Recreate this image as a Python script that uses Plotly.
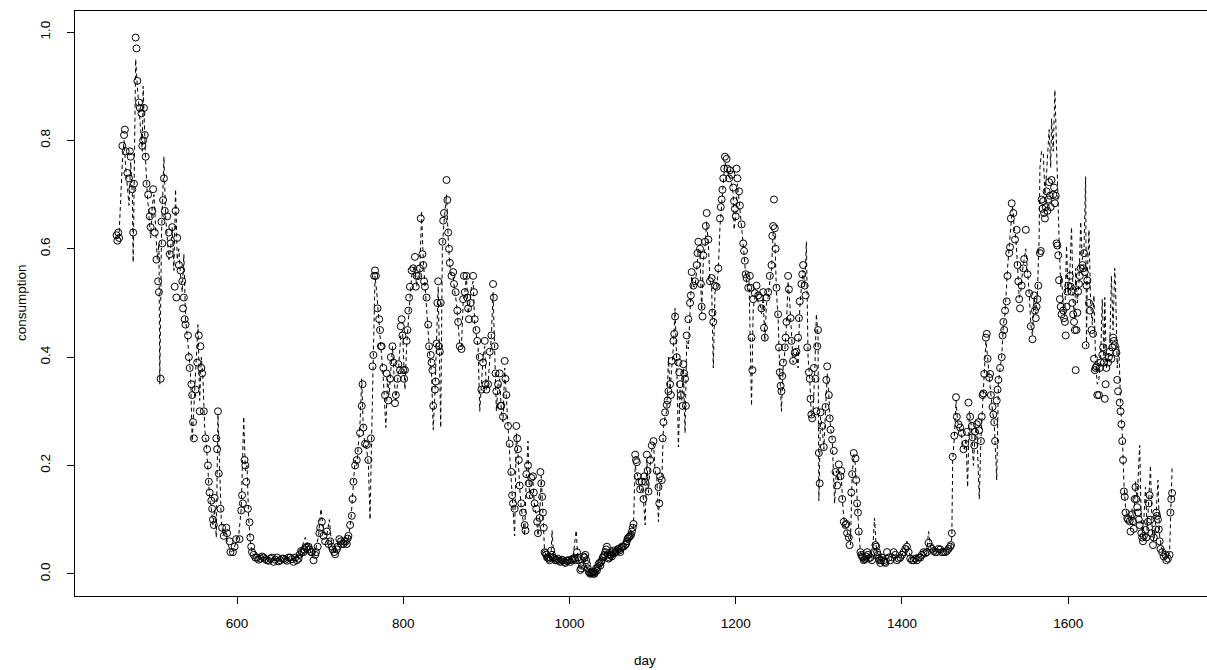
import plotly.graph_objects as go

# ---------------- observed consumption (circles) ----------------
obs_day_1 = [455,456,457,458,462,464,465,466,468,470,
             471,472,474,475,476,478,479,480,482,483,
             485,486,487,488,489,490,491,493,495,496,
             498,499,501,503,505,506,508,509,510,511,
             512,513,516,518,519,520,522,525,526,527,
             528,530,532,534,535,536,537,538,541,542,
             543,545,546,547,548,550,552,554,555,556,
             557,558,560,562,564,565,566,567,569,570,
             571,572,573,575,576,577,578,580,582,584,
             587,588,591,592,595,597,599,603,605,606,
             607,609,610,611,613,615,616,617,618]
obs_val_1 = [0.625,0.615,0.63,0.62,0.79,0.81,0.82,0.78,0.74,0.73,
             0.78,0.77,0.71,0.63,0.72,0.99,0.97,0.91,0.87,0.86,
             0.85,0.79,0.80,0.86,0.81,0.77,0.72,0.70,0.66,0.64,
             0.67,0.71,0.63,0.58,0.54,0.52,0.36,0.65,0.61,0.69,
             0.73,0.67,0.66,0.63,0.59,0.61,0.64,0.53,0.67,0.51,
             0.62,0.57,0.56,0.54,0.49,0.51,0.47,0.46,0.44,0.40,
             0.38,0.35,0.33,0.28,0.25,0.34,0.39,0.44,0.30,0.42,
             0.38,0.37,0.30,0.25,0.23,0.20,0.17,0.15,0.135,0.12,
             0.10,0.09,0.14,0.25,0.23,0.30,0.185,0.12,0.085,0.07,
             0.085,0.075,0.06,0.04,0.04,0.05,0.064,0.064,0.117,0.145,
             0.13,0.21,0.20,0.17,0.12,0.095,0.067,0.05,0.04]

obs_day_2 = [620,624,628,632,636,640,644,648,652,656,
             660,664,668,672,675,678,681,684,687,690,
             692,695,699,700,702,706,708,712,715,718,
             721,723,726,729,732,734,736,738,739,740,
             742,744,746,748,750,751,752,754,756,758,
             761,763,764,765,766,767,769,771,772,773,
             774,776,778,780,782,784,785,787,788,790,
             791,793,794,796,797,798,799,800,801,802,
             804,805,806,807,808,810,812,814,815,816,
             818,820,821,823,824,825,826,828,830,831,
             833,834,835,836,838,839,840,841,842,843,
             844,845,847,848,849,852,853,854,855,856,
             858,860,861,863,865,866,868,870,872,873]
obs_val_2 = [0.035,0.03,0.028,0.03,0.025,0.028,0.022,0.03,0.025,0.028,
             0.024,0.03,0.022,0.025,0.035,0.04,0.045,0.05,0.045,0.04,
             0.025,0.04,0.075,0.085,0.096,0.06,0.078,0.06,0.045,0.036,
             0.05,0.064,0.055,0.06,0.055,0.07,0.09,0.107,0.138,0.17,
             0.20,0.21,0.227,0.26,0.31,0.35,0.27,0.24,0.238,0.21,
             0.25,0.383,0.404,0.55,0.56,0.55,0.49,0.47,0.45,0.42,
             0.42,0.38,0.33,0.37,0.32,0.36,0.40,0.42,0.39,0.315,
             0.33,0.36,0.387,0.376,0.457,0.47,0.44,0.376,0.36,0.376,
             0.43,0.45,0.486,0.51,0.53,0.56,0.564,0.585,0.53,0.55,
             0.55,0.564,0.656,0.59,0.57,0.54,0.53,0.51,0.46,0.42,
             0.404,0.39,0.376,0.31,0.34,0.355,0.425,0.50,0.54,0.42,
             0.41,0.50,0.613,0.652,0.666,0.727,0.69,0.63,0.60,0.574,
             0.55,0.557,0.535,0.52,0.486,0.465,0.42,0.415,0.507,0.55]

obs_day_3 = [874,876,877,878,879,881,884,885,886,888,
             889,892,894,896,898,899,900,902,904,906,
             908,909,910,911,912,914,916,917,918,920,
             922,923,924,926,928,930,931,932,934,936,
             937,938,939,940,942,944,946,947,948,950,
             951,952,954,956,957,958,960,961,962,964,
             965,966,967,968,969,970,972,974,976,978,
             980,983,986,989,992,995,998,1001,1004,1007,
             1009,1011,1013,1015,1017,1019,1021,1023,1025,1027,
             1030,1033,1035,1037,1039,1041,1043,1045,1047,1049,
             1051,1053,1055,1059,1061,1063,1067,1069,1071,1073,
             1075,1077,1079,1080,1081,1082,1084,1085,1087,1089,
             1090,1091,1093,1094,1095,1097,1099,1101]
obs_val_3 = [0.52,0.55,0.51,0.49,0.47,0.50,0.55,0.52,0.47,0.45,
             0.43,0.40,0.34,0.39,0.43,0.35,0.34,0.35,0.41,0.44,
             0.535,0.51,0.42,0.37,0.337,0.35,0.37,0.31,0.31,0.29,
             0.393,0.36,0.33,0.273,0.24,0.188,0.145,0.13,0.12,0.273,
             0.25,0.23,0.21,0.163,0.13,0.113,0.09,0.08,0.184,0.20,
             0.167,0.145,0.177,0.18,0.15,0.13,0.12,0.096,0.075,0.103,
             0.188,0.167,0.142,0.113,0.085,0.04,0.035,0.03,0.025,0.043,
             0.03,0.025,0.028,0.022,0.025,0.02,0.025,0.022,0.028,0.025,
             0.04,0.025,0.007,0.015,0.032,0.035,0.018,0.004,0.0,0.003,
             0.0,0.006,0.018,0.015,0.025,0.032,0.04,0.05,0.028,0.035,
             0.032,0.043,0.04,0.046,0.04,0.05,0.053,0.06,0.067,0.07,
             0.078,0.092,0.22,0.21,0.206,0.18,0.17,0.156,0.17,0.138,
             0.18,0.17,0.22,0.19,0.152,0.21,0.237,0.245]

obs_day_4 = [1105,1107,1108,1109,1111,1112,1113,1115,1117,1118,
             1119,1121,1122,1123,1125,1126,1127,1129,1131,1132,
             1133,1134,1136,1137,1138,1139,1140,1141,1143,1145,
             1146,1147,1149,1151,1153,1154,1155,1157,1158,1159,
             1160,1161,1163,1164,1165,1167,1169,1171,1172,1173,
             1175,1177,1179,1181,1182,1183,1184,1185,1186,1187,
             1189,1190,1192,1193,1195,1197,1198,1199,1200,1201,
             1202,1204,1205,1207,1209,1210,1211,1212,1213,1215,
             1217,1218,1219,1220,1221,1223,1225,1227,1229,1231,
             1233,1234,1235,1237,1239,1241,1243,1244,1245,1246,
             1247,1248,1249,1251,1252,1253,1254,1255,1256,1257,
             1259,1260,1261,1263,1264,1266,1267,1269,1271,1273,
             1275,1276,1277,1279,1280,1281,1283,1284,1286,1288,
             1289,1290,1291,1292,1294,1296,1297,1298,1299,1300,
             1301,1302,1304,1306,1308,1309,1310,1312,1313,1314,
             1316,1318,1320,1322,1324,1326,1327,1328,1330,1332]
obs_val_4 = [0.19,0.16,0.13,0.18,0.173,0.25,0.28,0.298,0.312,0.32,
             0.337,0.35,0.33,0.393,0.43,0.443,0.475,0.40,0.39,0.372,
             0.35,0.33,0.31,0.387,0.37,0.36,0.31,0.44,0.47,0.50,
             0.514,0.557,0.532,0.54,0.57,0.592,0.613,0.60,0.535,0.493,
             0.475,0.588,0.613,0.642,0.666,0.617,0.54,0.546,0.482,0.465,
             0.532,0.53,0.564,0.656,0.677,0.691,0.709,0.73,0.748,0.77,
             0.766,0.748,0.73,0.745,0.737,0.713,0.688,0.674,0.66,0.748,
             0.73,0.706,0.68,0.645,0.61,0.596,0.578,0.553,0.546,0.528,
             0.55,0.528,0.436,0.376,0.507,0.518,0.532,0.514,0.51,0.49,
             0.52,0.454,0.436,0.51,0.52,0.55,0.57,0.624,0.642,0.691,
             0.638,0.60,0.528,0.479,0.418,0.372,0.347,0.337,0.365,0.39,
             0.418,0.436,0.465,0.55,0.525,0.472,0.43,0.393,0.408,0.41,
             0.436,0.472,0.503,0.535,0.553,0.57,0.532,0.514,0.418,0.372,
             0.36,0.323,0.294,0.287,0.38,0.36,0.30,0.42,0.45,0.223,
             0.167,0.298,0.273,0.234,0.308,0.358,0.383,0.33,0.287,0.266,
             0.248,0.227,0.188,0.163,0.202,0.18,0.19,0.138,0.096,0.09]

obs_day_5 = [1333,1334,1336,1337,1339,1340,1342,1344,1345,1346,
             1347,1348,1350,1352,1354,1356,1358,1360,1364,1368,
             1370,1372,1374,1376,1380,1382,1386,1390,1394,1398,
             1404,1406,1410,1414,1418,1422,1426,1430,1432,1436,
             1440,1444,1448,1452,1456,1459,1460,1461,1463,1465,
             1466,1468,1470,1472,1474,1476,1478,1480,1482,1484,
             1485,1487,1488,1490,1492,1493,1495,1496,1497,1498,
             1499,1501,1502,1503,1505,1506,1507,1509,1510,1511,
             1512,1514,1515,1516,1518,1520,1521,1522,1523,1524,
             1526,1527,1529,1530,1531,1532,1534,1536,1538,1539,
             1540,1541,1542,1544,1546,1547,1549,1551,1553,1555,
             1557,1559]
obs_val_5 = [0.092,0.075,0.067,0.053,0.15,0.184,0.223,0.213,0.173,0.13,
             0.113,0.078,0.04,0.032,0.025,0.028,0.04,0.028,0.025,0.053,
             0.04,0.028,0.02,0.03,0.02,0.04,0.025,0.04,0.025,0.03,
             0.046,0.05,0.028,0.025,0.025,0.03,0.04,0.04,0.057,0.046,
             0.04,0.046,0.04,0.04,0.046,0.053,0.075,0.216,0.255,0.326,
             0.29,0.276,0.27,0.26,0.23,0.24,0.262,0.316,0.29,0.273,
             0.252,0.237,0.262,0.276,0.28,0.265,0.245,0.29,0.33,0.333,
             0.369,0.436,0.443,0.397,0.362,0.369,0.33,0.308,0.294,0.28,
             0.245,0.32,0.34,0.358,0.38,0.40,0.44,0.465,0.45,0.486,
             0.503,0.55,0.592,0.603,0.656,0.684,0.666,0.617,0.635,0.57,
             0.54,0.507,0.49,0.532,0.564,0.581,0.635,0.553,0.518,0.457,
             0.433,0.514]

obs_day_6 = [1560,1561,1562,1563,1564,1566,1567,1568,1569,1570,
             1571,1572,1573,1574,1575,1576,1577,1578,1579,1580,
             1582,1583,1584,1585,1586,1587,1588,1589,1590,1591,
             1592,1594,1595,1596,1597,1598,1599,1600,1602,1603,
             1604,1605,1606,1607,1608,1609,1610,1611,1612,1613,
             1614,1615,1617,1618,1619,1620,1621,1622,1623,1625,
             1626,1628,1630,1631,1632,1633,1634,1635,1637,1638,
             1639,1641,1642,1643,1644,1645,1646,1648,1649,1650,
             1652,1653,1654,1655,1656,1658,1659,1660,1662,1663,
             1664,1665,1666,1667,1668,1669,1671,1672,1674,1675,
             1677,1678,1679,1680,1681,1682,1683,1684,1685,1686,
             1688,1689,1690,1691,1693,1694,1696,1697,1698,1699,
             1700,1702,1703,1705,1706,1707,1708,1709,1710,1711,
             1713,1715,1717,1718,1720,1722,1723,1724,1725]
obs_val_6 = [0.486,0.472,0.493,0.507,0.532,0.592,0.596,0.691,0.674,0.688,
             0.666,0.656,0.677,0.706,0.67,0.691,0.723,0.698,0.677,0.727,
             0.70,0.713,0.684,0.698,0.61,0.606,0.588,0.542,0.507,0.493,
             0.479,0.486,0.472,0.465,0.44,0.493,0.521,0.532,0.55,0.53,
             0.521,0.50,0.479,0.465,0.45,0.376,0.45,0.482,0.521,0.535,
             0.55,0.564,0.57,0.564,0.592,0.557,0.422,0.532,0.542,0.50,
             0.486,0.45,0.443,0.397,0.376,0.38,0.383,0.33,0.33,0.38,
             0.39,0.404,0.418,0.39,0.323,0.35,0.38,0.39,0.40,0.41,
             0.397,0.418,0.436,0.43,0.422,0.408,0.358,0.337,0.316,0.30,
             0.276,0.245,0.21,0.152,0.142,0.113,0.103,0.10,0.097,0.078,
             0.11,0.097,0.083,0.138,0.16,0.138,0.123,0.113,0.10,0.09,
             0.075,0.067,0.06,0.07,0.081,0.067,0.096,0.13,0.145,0.10,
             0.075,0.053,0.067,0.082,0.113,0.107,0.10,0.082,0.06,0.046,
             0.04,0.032,0.035,0.025,0.028,0.035,0.113,0.138,0.149]

# extra readings in the dense low (summer) bands
obs_day_low = [622,626,630,634,638,642,646,650,654,658,
               662,666,670,674,677,680,683,686,689,694,
               697,704,710,714,717,720,725,728,731,733,
               971,973,975,977,979,982,985,988,991,994,
               997,1000,1003,1006,1010,1014,1018,1020,1022,1024,
               1026,1028,1029,1031,1032,1034,1036,1038,1040,1042,
               1044,1046,1048,1050,1052,1054,1057,1058,1060,1062,
               1065,1068,1070,1072,1074,1076,
               1351,1353,1355,1357,1359,1362,1366,1369,1371,1373,
               1375,1378,1379,1384,1388,1392,1396,1400,1402,1408,
               1412,1416,1420,1424,1428,1434,1438,1442,1446,1450,
               1454,1458]
obs_val_low = [0.03,0.026,0.032,0.027,0.024,0.03,0.026,0.023,0.028,0.026,
               0.03,0.027,0.03,0.028,0.042,0.04,0.048,0.05,0.04,0.035,
               0.05,0.07,0.055,0.05,0.04,0.045,0.06,0.055,0.06,0.065,
               0.038,0.03,0.028,0.03,0.035,0.028,0.025,0.024,0.026,0.022,
               0.024,0.025,0.026,0.028,0.03,0.01,0.03,0.025,0.01,0.002,
               0.002,0.0,0.004,0.003,0.01,0.012,0.02,0.022,0.03,0.035,
               0.045,0.035,0.03,0.035,0.04,0.038,0.042,0.045,0.043,0.048,
               0.05,0.055,0.065,0.068,0.072,0.085,
               0.035,0.03,0.027,0.032,0.035,0.03,0.04,0.05,0.035,0.025,
               0.025,0.025,0.022,0.03,0.03,0.035,0.028,0.035,0.04,0.04,
               0.025,0.028,0.03,0.035,0.038,0.05,0.042,0.04,0.045,0.04,
               0.042,0.05]

# ---------------- model output (dashed line) ----------------
fit_day = [455,458,462,464,466,468,470,472,474,475,
           476,478,480,482,484,486,487,488,490,492,
           494,496,498,500,502,504,506,507,509,512,
           514,516,518,520,522,524,526,528,530,532,
           534,536,538,540,542,544,546,548,550,553,
           555,557,559,561,563,565,567,569,571,573,
           575,577,579,581,583,586,588,590,593,596,
           599,602,605,608,610,612,614,616,618,622,
           628,634,640,646,652,658,664,670,676,682,
           686,690,694,698,701,704,708,711,714,718,
           722,726,730,734,737,740,742,744,746,748,
           750,752,754,756,758,760,762,764,766,768,
           770,772,774,776,779,781,783,785,787,789,
           791,793,795,797,799,802,804,806,808,810,
           812,814,816,818,820,822,824,826,828,830,
           832,834,836,838,840,842,845,847,849,852,
           854,856,858,860,862,864,866,868,870,872,
           874,876,878,880,882,884,886,888,890,892,
           894,896,898,900,902,904,906,908,910,912,
           914,916,918,920,922,924,926,928,930,932,
           934,936,938,940,942,944,946,948,950,952,
           954,956,958,960,962,964,966,968,970,974,
           978,979,981,986,992,998,1004,1008,1010,1014,
           1018,1022,1026,1030,1034,1038,1042,1046,1050,1054,
           1058,1062,1066,1070,1074,1077,1079,1082,1085,1088,
           1091,1093,1095,1097,1099,1101,1103,1105,1107,1109,
           1111,1113,1115,1117,1119,1121,1123,1125,1127,1129,
           1131,1133,1135,1137,1139,1141,1143,1145,1147,1149,
           1151,1153,1155,1157,1159,1161,1163,1165,1167,1169,
           1171,1173,1175,1177,1179,1181,1183,1185,1187,1189,
           1191,1193,1195,1197,1198,1200,1202,1204,1206,1208,
           1210,1212,1214,1216,1219,1221,1223,1225,1227,1229,
           1231,1233,1235,1237,1239,1241,1243,1245,1247,1249,
           1251,1253,1255,1257,1259,1261,1263,1265,1267,1269,
           1271,1273,1275,1277,1279,1281,1283,1285,1287,1289,
           1291,1293,1295,1297,1299,1300,1302,1304,1306,1308,
           1310,1312,1314,1316,1319,1321,1323,1325,1327,1329,
           1331,1333,1335,1338,1340,1342,1344,1346,1348,1350,
           1354,1358,1362,1365,1367,1369,1373,1378,1383,1388,
           1393,1398,1403,1406,1410,1415,1420,1425,1430,1432,
           1435,1440,1445,1450,1455,1459,1460,1461,1463,1465,
           1467,1469,1471,1473,1475,1477,1479,1481,1483,1486,
           1488,1490,1493,1495,1497,1499,1501,1503,1505,1507,
           1509,1511,1514,1516,1518,1520,1522,1524,1527,1529,
           1531,1533,1535,1537,1539,1541,1543,1545,1547,1549,
           1551,1553,1555,1557,1559,1561,1563,1565,1566,1568,
           1570,1572,1574,1577,1579,1580,1582,1584,1585,1587,
           1589,1591,1592,1594,1596,1598,1600,1602,1604,1606,
           1608,1609,1611,1613,1615,1617,1619,1621,1622,1623,
           1625,1627,1629,1631,1633,1635,1637,1639,1641,1643,
           1644,1646,1648,1650,1652,1654,1656,1657,1659,1661,
           1663,1665,1667,1669,1671,1673,1675,1677,1679,1681,
           1683,1686,1688,1690,1693,1695,1697,1699,1701,1703,
           1705,1708,1710,1712,1714,1717,1720,1722,1725]
fit_val = [0.62,0.625,0.76,0.80,0.75,0.72,0.68,0.76,0.70,0.575,
           0.72,0.95,0.90,0.86,0.82,0.78,0.90,0.84,0.76,0.70,
           0.66,0.62,0.68,0.70,0.64,0.58,0.61,0.35,0.62,0.77,
           0.66,0.62,0.58,0.60,0.64,0.56,0.71,0.58,0.60,0.55,
           0.52,0.59,0.47,0.44,0.40,0.37,0.245,0.30,0.36,0.46,
           0.32,0.40,0.36,0.27,0.24,0.19,0.14,0.12,0.09,0.12,
           0.067,0.295,0.17,0.10,0.07,0.08,0.06,0.05,0.04,0.045,
           0.06,0.07,0.12,0.29,0.19,0.20,0.10,0.06,0.04,0.032,
           0.028,0.03,0.025,0.03,0.025,0.028,0.03,0.025,0.04,0.067,
           0.05,0.035,0.04,0.07,0.12,0.08,0.07,0.10,0.05,0.04,
           0.06,0.05,0.06,0.065,0.10,0.16,0.21,0.20,0.24,0.28,
           0.36,0.26,0.24,0.23,0.20,0.10,0.26,0.40,0.55,0.52,
           0.47,0.44,0.40,0.36,0.27,0.36,0.33,0.38,0.42,0.36,
           0.32,0.35,0.39,0.44,0.45,0.34,0.42,0.47,0.52,0.55,
           0.56,0.57,0.53,0.55,0.56,0.67,0.58,0.53,0.50,0.44,
           0.40,0.37,0.266,0.33,0.42,0.53,0.27,0.60,0.65,0.70,
           0.62,0.57,0.55,0.55,0.52,0.50,0.46,0.42,0.42,0.50,
           0.52,0.55,0.48,0.50,0.53,0.54,0.46,0.44,0.42,0.30,
           0.36,0.40,0.42,0.34,0.35,0.40,0.44,0.52,0.40,0.30,
           0.35,0.36,0.30,0.28,0.38,0.32,0.27,0.22,0.17,0.12,
           0.07,0.26,0.22,0.16,0.12,0.10,0.07,0.18,0.245,0.14,
           0.17,0.17,0.12,0.11,0.07,0.10,0.18,0.11,0.04,0.03,
           0.043,0.08,0.03,0.028,0.025,0.025,0.028,0.08,0.03,0.01,
           0.03,0.005,0.0,0.002,0.01,0.02,0.035,0.04,0.03,0.04,
           0.045,0.045,0.05,0.06,0.07,0.09,0.20,0.18,0.15,0.16,
           0.09,0.21,0.15,0.20,0.23,0.24,0.19,0.18,0.096,0.17,
           0.17,0.27,0.29,0.30,0.40,0.34,0.38,0.42,0.49,0.39,
           0.234,0.34,0.32,0.38,0.26,0.43,0.415,0.49,0.55,0.53,
           0.53,0.56,0.60,0.59,0.48,0.58,0.60,0.65,0.61,0.54,
           0.53,0.38,0.52,0.53,0.56,0.64,0.68,0.72,0.76,0.75,
           0.74,0.73,0.72,0.70,0.635,0.66,0.72,0.69,0.66,0.62,
           0.59,0.55,0.53,0.54,0.31,0.49,0.51,0.52,0.50,0.50,
           0.48,0.51,0.43,0.50,0.51,0.54,0.56,0.63,0.62,0.52,
           0.47,0.37,0.30,0.38,0.41,0.46,0.54,0.50,0.43,0.39,
           0.40,0.41,0.38,0.49,0.53,0.56,0.53,0.613,0.40,0.36,
           0.29,0.30,0.37,0.48,0.44,0.135,0.29,0.27,0.23,0.30,
           0.37,0.33,0.27,0.25,0.13,0.19,0.17,0.19,0.18,0.12,
           0.09,0.085,0.07,0.053,0.18,0.22,0.20,0.13,0.08,0.04,
           0.028,0.035,0.03,0.05,0.103,0.05,0.025,0.03,0.035,0.03,
           0.035,0.03,0.045,0.06,0.03,0.028,0.03,0.035,0.045,0.078,
           0.045,0.04,0.045,0.04,0.045,0.05,0.07,0.21,0.25,0.32,
           0.28,0.27,0.26,0.24,0.23,0.25,0.16,0.30,0.28,0.20,
           0.26,0.27,0.138,0.25,0.32,0.36,0.43,0.40,0.36,0.33,
           0.30,0.28,0.173,0.35,0.38,0.40,0.46,0.48,0.564,0.60,
           0.65,0.68,0.64,0.62,0.57,0.51,0.52,0.56,0.58,0.60,
           0.56,0.52,0.46,0.44,0.51,0.48,0.52,0.62,0.75,0.78,
           0.776,0.70,0.74,0.82,0.75,0.84,0.78,0.893,0.84,0.70,
           0.62,0.53,0.55,0.49,0.48,0.606,0.52,0.56,0.64,0.50,
           0.47,0.564,0.50,0.54,0.65,0.58,0.60,0.733,0.42,0.55,
           0.635,0.50,0.46,0.514,0.39,0.35,0.36,0.40,0.507,0.40,
           0.51,0.38,0.40,0.42,0.55,0.45,0.564,0.53,0.38,0.42,
           0.31,0.26,0.17,0.12,0.11,0.10,0.09,0.12,0.10,0.17,
           0.14,0.237,0.09,0.07,0.16,0.08,0.13,0.20,0.08,0.06,
           0.09,0.173,0.07,0.05,0.04,0.035,0.03,0.04,0.195]

x_ticks = [600, 800, 1000, 1200, 1400, 1600]
y_ticks = [0.0, 0.2, 0.4, 0.6, 0.8, 1.0]
y_tick_text = ["0.0", "0.2", "0.4", "0.6", "0.8", "1.0"]

obs_day = (obs_day_1 + obs_day_2 + obs_day_3 + obs_day_4 + obs_day_5
           + obs_day_6 + obs_day_low)
obs_val = (obs_val_1 + obs_val_2 + obs_val_3 + obs_val_4 + obs_val_5
           + obs_val_6 + obs_val_low)
assert len(obs_day) == len(obs_val), (len(obs_day), len(obs_val))
assert len(fit_day) == len(fit_val), (len(fit_day), len(fit_val))

FONT = "Liberation Sans, Arial, Helvetica, sans-serif"

fig = go.Figure()
fig.add_trace(go.Scatter(
    x=fit_day, y=fit_val, mode="lines",
    line=dict(color="black", width=1, dash="4px,3px"),
    hoverinfo="skip"))
fig.add_trace(go.Scatter(
    x=obs_day, y=obs_val, mode="markers",
    marker=dict(symbol="circle-open", size=7, color="black",
                line=dict(width=1, color="black"))))

fig.update_layout(
    width=1207, height=670,
    margin=dict(l=75, r=0, t=11, b=74),
    paper_bgcolor="white", plot_bgcolor="white",
    showlegend=False,
    font=dict(family=FONT, size=13.5, color="black"),
    xaxis=dict(range=[405, 1767], tickvals=x_ticks,
               ticks="outside", ticklen=7, tickwidth=1, tickcolor="black",
               showline=True, linecolor="black", linewidth=1, mirror=True,
               showgrid=False, zeroline=False, ticklabelstandoff=8,
               tickfont=dict(family=FONT, size=13.5, color="black")),
    yaxis=dict(range=[-0.041, 1.039], tickvals=y_ticks, ticktext=y_tick_text,
               tickangle=-90,
               ticks="outside", ticklen=7, tickwidth=1, tickcolor="black",
               showline=True, linecolor="black", linewidth=1, mirror=False,
               showgrid=False, zeroline=False, ticklabelstandoff=12,
               tickfont=dict(family=FONT, size=13.5, color="black")),
    annotations=[
        dict(text="day", xref="paper", yref="paper",
             x=(645 - 75) / 1132, y=(596 - 660) / 585,
             xanchor="center", yanchor="middle", showarrow=False,
             font=dict(family=FONT, size=13.5, color="black")),
        dict(text="consumption", xref="paper", yref="paper",
             x=(21 - 75) / 1132, y=(596 - 303) / 585, textangle=-90,
             xanchor="center", yanchor="middle", showarrow=False,
             font=dict(family=FONT, size=13.5, color="black")),
    ],
)

fig.write_html("out.html")
